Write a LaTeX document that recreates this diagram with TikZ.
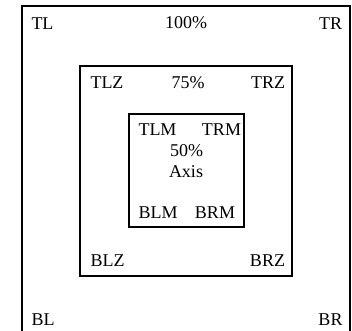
\documentclass[tikz,border=0pt]{standalone}
\usepackage{fontspec}
\setmainfont{Liberation Serif}
\begin{document}
\begin{tikzpicture}[x=1pt,y=-1pt,
  box/.style={draw=black, line width=2pt, fill=none, inner sep=0pt, outer sep=0pt},
  lbl/.style={inner sep=0pt, outer sep=0pt, font=\fontsize{18}{21}\selectfont}]
\useasboundingbox (0,0) rectangle (352,330);
\clip (0,0) rectangle (352,330);
\node[box, minimum width=328.6pt, minimum height=328.6pt] (outer) at (186,170.3) {};
\node[box, minimum width=212pt, minimum height=210pt] (middle) at (186,170.7) {};
\node[box, minimum width=114.7pt, minimum height=113pt] (inner) at (186.3,170.8) {};
% outer labels
\node[lbl, anchor=base west] (tl) at (31.5,29) {TL};
\node[lbl, anchor=base] (p100) at (186,28) {100\%};
\node[lbl, anchor=base east] (tr) at (342,29) {TR};
\node[lbl, anchor=base west] (bl) at (31.5,325) {BL};
\node[lbl, anchor=base east] (br) at (342.5,325) {BR};
% middle labels
\node[lbl, anchor=base west] (tlz) at (90.5,88) {TLZ};
\node[lbl, anchor=base] (p75) at (188,88) {75\%};
\node[lbl, anchor=base east] (trz) at (285,88) {TRZ};
\node[lbl, anchor=base west] (blz) at (90.5,266.5) {BLZ};
\node[lbl, anchor=base east] (brz) at (285,266.5) {BRZ};
% inner labels
\node[lbl, anchor=base west] (tlm) at (138.5,135.5) {TLM};
\node[lbl, anchor=base east] (trm) at (241,135.5) {TRM};
\node[lbl, anchor=base] (p50) at (186.5,156) {50\%};
\node[lbl, anchor=base] (axis) at (186,177) {Axis};
\node[lbl, anchor=base west] (blm) at (138.5,218) {BLM};
\node[lbl, anchor=base east] (brm) at (235,218) {BRM};
\end{tikzpicture}
\end{document}
